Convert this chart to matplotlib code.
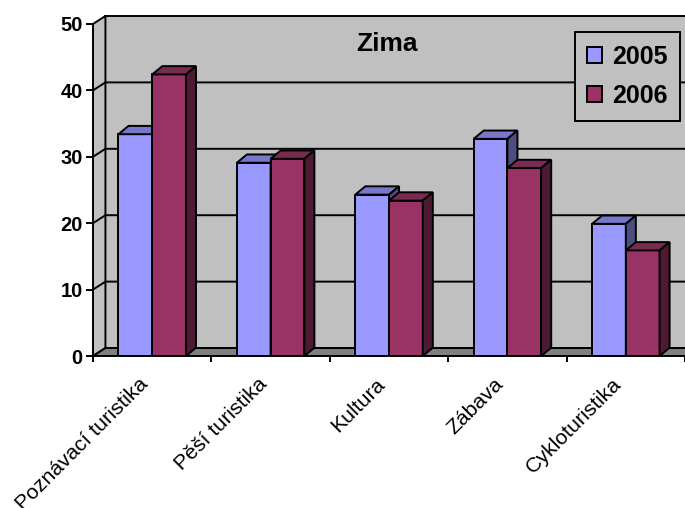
import matplotlib
matplotlib.use("Agg")
import matplotlib.pyplot as plt
from matplotlib.patches import Polygon, Patch

categories = ["Poznávací turistika", "Pěší turistika", "Kultura", "Zábava", "Cykloturistika"]
years = ["2005", "2006"]
values_2005 = [33.4, 29.1, 24.3, 32.7, 19.9]
values_2006 = [42.4, 29.7, 23.4, 28.3, 15.9]
y_ticks = [0, 10, 20, 30, 40, 50]
title = "Zima"

plt.rcParams['font.family'] = ['Liberation Sans', 'DejaVu Sans']

# face / top / side shades for each series
colors = {
    "2005": ("#9999FF", "#7777CC", "#4D4D80"),
    "2006": ("#993366", "#7A2952", "#4D1A33"),
}
wall_color = "#C0C0C0"
floor_color = "#808080"
LW = 1.4

fig = plt.figure(figsize=(6.85, 5.08), dpi=100)
ax = fig.add_axes([93 / 685, 152 / 508, 592 / 685, 342 / 508])
n = len(categories)
ymax = y_ticks[-1]
ax.set_xlim(0, n)
ax.set_ylim(0, 51.5)

# depth offsets (category units, value units)
wdx, wdy = 0.105, 1.2
bdx, bdy = 0.085, 1.25
bar_w = 0.285

edge = dict(edgecolor="black", linewidth=LW, joinstyle="miter")

# back wall, side wall and floor
ax.add_patch(Polygon([(wdx, wdy), (n + wdx, wdy), (n + wdx, ymax + wdy), (wdx, ymax + wdy)],
                     closed=True, facecolor=wall_color, zorder=1, **edge))
ax.add_patch(Polygon([(0, 0), (wdx, wdy), (wdx, ymax + wdy), (0, ymax)],
                     closed=True, facecolor=wall_color, zorder=1, **edge))
ax.add_patch(Polygon([(0, 0), (n, 0), (n + wdx, wdy), (wdx, wdy)],
                     closed=True, facecolor=floor_color, zorder=2, **edge))

# gridlines running along the side wall and the back wall
for v in y_ticks[1:-1]:
    ax.plot([0, wdx, n + wdx], [v, v + wdy, v + wdy], color="black", lw=LW,
            zorder=2, solid_joinstyle="miter")


def draw_series(x_left, heights, shades):
    face, top, side = shades
    ax.bar(x_left, heights, width=bar_w, align="edge", color=face,
           edgecolor="black", linewidth=LW, zorder=3)
    for x0, h in zip(x_left, heights):
        x1 = x0 + bar_w
        ax.add_patch(Polygon([(x0, h), (x1, h), (x1 + bdx, h + bdy), (x0 + bdx, h + bdy)],
                             closed=True, facecolor=top, zorder=3, **edge))
        ax.add_patch(Polygon([(x1, 0), (x1 + bdx, bdy), (x1 + bdx, h + bdy), (x1, h)],
                             closed=True, facecolor=side, zorder=3, **edge))


idx = list(range(n))
draw_series([i + 0.5 - bar_w for i in idx], values_2005, colors["2005"])
draw_series([i + 0.5 for i in idx], values_2006, colors["2006"])

# axes lines and ticks
for s in ["top", "right"]:
    ax.spines[s].set_visible(False)
ax.spines["left"].set_bounds(0, ymax)
ax.spines["left"].set_linewidth(LW)
ax.spines["bottom"].set_linewidth(LW)
ax.spines["left"].set_zorder(4)
ax.spines["bottom"].set_zorder(4)

ax.set_yticks(y_ticks)
ax.set_yticklabels([str(v) for v in y_ticks], fontsize=14.5, fontweight="bold")
ax.tick_params(axis="y", direction="out", length=5, width=LW, pad=2.5)
ax.set_xticks(range(n + 1))
ax.set_xticklabels([])
ax.tick_params(axis="x", direction="out", length=4.5, width=LW)

for i, name in enumerate(categories):
    ax.annotate(name, xy=(i + 0.5, 0), xytext=(-5, -18), textcoords="offset points",
                rotation=45, rotation_mode="anchor", ha="right", va="center",
                fontsize=15.3, annotation_clip=False)

fig.text(387 / 685, 1 - 44 / 508, title, ha="center", va="center",
         fontsize=19, fontweight="bold")

handles = [Patch(facecolor=colors[y][0], edgecolor="black", linewidth=LW) for y in years]
leg = fig.legend(handles, years, loc="upper right",
                 bbox_to_anchor=(680 / 685, 1 - 32 / 508),
                 frameon=True, fancybox=False, prop={"weight": "bold", "size": 18},
                 handlelength=0.6, handleheight=0.6, handletextpad=0.4,
                 labelspacing=0.62, borderpad=0.5, borderaxespad=0)
frame = leg.get_frame()
frame.set_facecolor(wall_color)
frame.set_edgecolor("black")
frame.set_linewidth(LW)
frame.set_alpha(1)

fig.savefig("out.png", dpi=100)
